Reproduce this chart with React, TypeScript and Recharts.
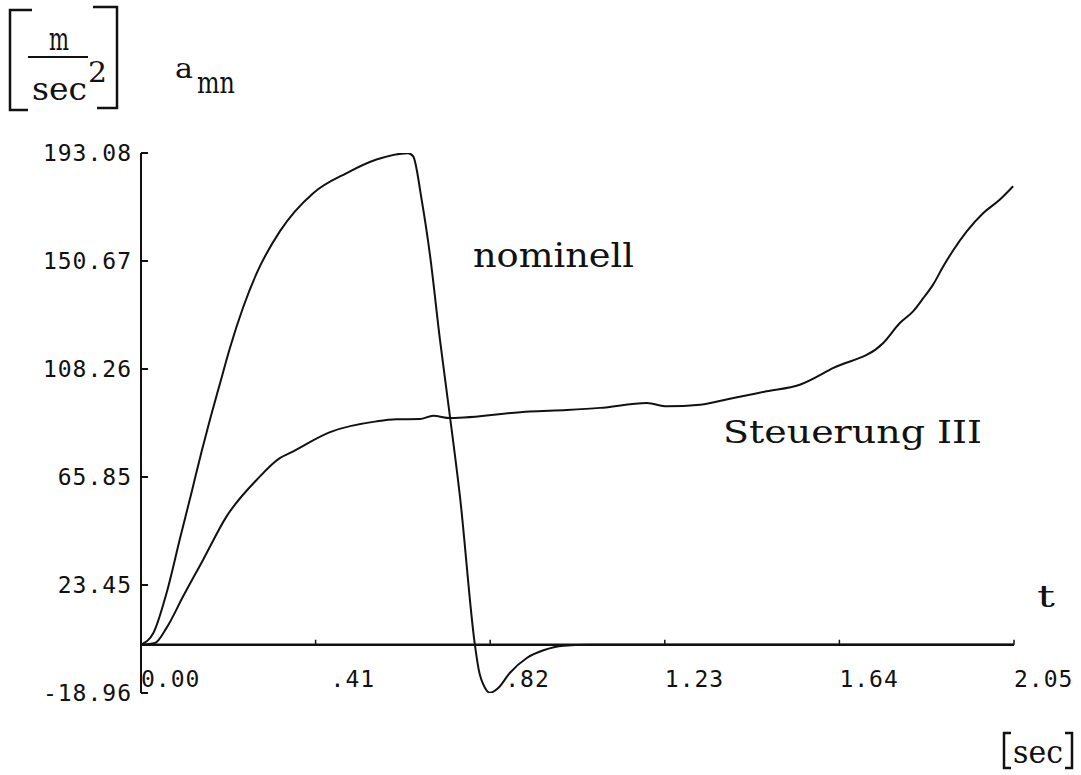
import React from 'react';
import { LineChart, Line, XAxis, YAxis, ReferenceLine } from 'recharts';

// time [sec] / acceleration [m/sec^2]
const nominellT = [
  0, 0.029, 0.06, 0.092, 0.119, 0.1425, 0.162, 0.186, 0.209, 0.2395, 0.272, 0.326, 0.405, 0.483,
  0.553, 0.627, 0.639, 0.659, 0.679, 0.702, 0.726, 0.749, 0.784, 0.793, 0.808, 0.819, 0.839,
  0.866, 0.906, 0.945, 0.992, 1.05, 2.05,
];
const nominellA = [
  0, 4.6, 20.3, 42, 60, 76, 88.4, 102.9, 116.6, 132.3, 146, 162.3, 177.4, 185.2,
  190.5, 193, 191.8, 174.8, 152.5, 119.8, 89, 58.2, 0, -9.8, -17, -18.9, -17,
  -11.1, -5.2, -2.2, -0.4, 0, 0,
];

const steuerungT = [
  0, 0.033, 0.06, 0.099, 0.146, 0.201, 0.272, 0.326, 0.35, 0.444, 0.553, 0.6, 0.655, 0.686,
  0.726, 0.913, 1.0, 1.078, 1.188, 1.235, 1.313, 1.391, 1.469, 1.547, 1.626, 1.743, 1.782,
  1.813, 1.837, 1.86, 1.884, 1.907, 1.939, 1.978, 2.017, 2.048,
];
const steuerungA = [
  0, 0.7, 6.6, 19, 33.4, 50.4, 64.8, 73.3, 75.3, 83.5, 87.7, 88.5, 88.6, 89.9,
  89, 91.6, 92.2, 93, 94.9, 93.6, 94.2, 96.9, 99.5, 102.1, 108.7, 118.5, 126.3,
  130.9, 136.1, 141.4, 148.6, 154.8, 162.3, 169.5, 174.8, 180,
];

const xTicks = [0, 0.41, 0.82, 1.23, 1.64, 2.05];
const xTickLabels = ['0.00', '.41', '.82', '1.23', '1.64', '2.05'];
const yTicks = [-18.96, 23.45, 65.85, 108.26, 150.67, 193.08];
const yTickLabels = ['-18.96', '23.45', '65.85', '108.26', '150.67', '193.08'];

const nominell = nominellT.map((t, i) => ({ t, a: nominellA[i] }));
const steuerung = steuerungT.map((t, i) => ({ t, a: steuerungA[i] }));

const W = 1081;
const H = 775;
const TOP = 153;
const BOTTOM = 693;
const LEFT = 141;
const RIGHT = 1014;
const Y_MIN = yTicks[0];
const Y_MAX = yTicks[yTicks.length - 1];
const ZERO_Y = TOP + (Y_MAX / (Y_MAX - Y_MIN)) * (BOTTOM - TOP);

const plotFont = "'DejaVu Sans Mono', monospace";
const typeFont = "'DejaVu Serif', serif";
const ink = '#111';

const findIdx = (arr: number[], v: number) => arr.findIndex((a) => Math.abs(a - v) < 1e-6);

function XTick(props: any) {
  const { x, payload } = props;
  const label = xTickLabels[findIdx(xTicks, payload.value)] ?? String(payload.value);
  return (
    <g>
      {payload.value > 0 && (
        <line x1={x} x2={x} y1={ZERO_Y} y2={ZERO_Y - 5} stroke={ink} strokeWidth={1.5} />
      )}
      <text
        x={x + (label.startsWith('.') ? 15 : 0)}
        y={ZERO_Y + 34}
        textAnchor="start"
        dominantBaseline="central"
        fontFamily={plotFont}
        fontSize={23}
        letterSpacing={1}
        fill={ink}
      >
        {label}
      </text>
    </g>
  );
}

function YTick(props: any) {
  const { x, y, payload } = props;
  const label = yTickLabels[findIdx(yTicks, payload.value)] ?? String(payload.value);
  return (
    <g>
      <line x1={x} x2={x + 7} y1={y} y2={y} stroke={ink} strokeWidth={2} />
      <text
        x={x - 9}
        y={y}
        textAnchor="end"
        dominantBaseline="central"
        fontFamily={plotFont}
        fontSize={23}
        letterSpacing={1}
        fill={ink}
      >
        {label}
      </text>
    </g>
  );
}

// typewriter-like annotation, squeezed to the width it has in the original
function TypeText({ x, y, size, len, children }: { x: number; y: number; size: number; len: number; children: React.ReactNode }) {
  return (
    <text
      x={x}
      y={y}
      fontFamily={typeFont}
      fontSize={size}
      textLength={len}
      lengthAdjust="spacingAndGlyphs"
      fill={ink}
    >
      {children}
    </text>
  );
}

function Labels() {
  return (
    <svg
      width={W}
      height={H}
      style={{ position: 'absolute', left: 0, top: 0, pointerEvents: 'none' }}
    >
      {/* unit of the y axis: [m / sec^2] */}
      <polyline points="32,10 10,10 10,110 28,110" fill="none" stroke={ink} strokeWidth={2.5} />
      <polyline points="93,7 117,7 117,108 97,108" fill="none" stroke={ink} strokeWidth={2.5} />
      <TypeText x={49} y={50} size={32} len={20}>m</TypeText>
      <line x1={28} x2={88} y1={57} y2={57} stroke={ink} strokeWidth={2} />
      <TypeText x={32} y={100} size={32} len={55}>sec</TypeText>
      <TypeText x={88} y={82} size={27} len={19}>2</TypeText>
      <TypeText x={175} y={78} size={27} len={18}>a</TypeText>
      <TypeText x={197} y={93} size={29} len={38}>mn</TypeText>

      <TypeText x={473} y={267} size={34} len={161}>nominell</TypeText>
      <TypeText x={723} y={443} size={31} len={259}>Steuerung III</TypeText>
      <TypeText x={1037} y={607} size={30} len={18}>t</TypeText>

      {/* unit of the x axis: [sec] */}
      <polyline points="1011,733 1004,733 1004,768 1011,768" fill="none" stroke={ink} strokeWidth={2.5} />
      <polyline points="1065,733 1072,733 1072,768 1065,768" fill="none" stroke={ink} strokeWidth={2.5} />
      <TypeText x={1013} y={763} size={32} len={50}>sec</TypeText>
    </svg>
  );
}

export default function App() {
  return (
    <div style={{ position: 'absolute', left: 0, top: 0, width: W, height: H, background: '#fff' }}>
      <LineChart
        width={W}
        height={H}
        margin={{ top: TOP, right: W - RIGHT, bottom: H - BOTTOM - 30, left: LEFT - 60 }}
      >
        <XAxis
          type="number"
          dataKey="t"
          domain={[0, 2.05]}
          ticks={xTicks}
          allowDataOverflow
          height={30}
          axisLine={false}
          tickLine={false}
          tickSize={0}
          tickMargin={0}
          tick={<XTick />}
        />
        <YAxis
          type="number"
          dataKey="a"
          domain={[Y_MIN, Y_MAX]}
          ticks={yTicks}
          allowDataOverflow
          width={60}
          axisLine={{ stroke: ink, strokeWidth: 2 }}
          tickLine={false}
          tickSize={0}
          tickMargin={0}
          tick={<YTick />}
        />
        <ReferenceLine y={0} stroke={ink} strokeWidth={2.5} ifOverflow="visible" />
        <Line
          data={nominell}
          dataKey="a"
          type="monotone"
          stroke={ink}
          strokeWidth={2}
          dot={false}
          isAnimationActive={false}
        />
        <Line
          data={steuerung}
          dataKey="a"
          type="monotone"
          stroke={ink}
          strokeWidth={2}
          dot={false}
          isAnimationActive={false}
        />
      </LineChart>
      <Labels />
    </div>
  );
}
